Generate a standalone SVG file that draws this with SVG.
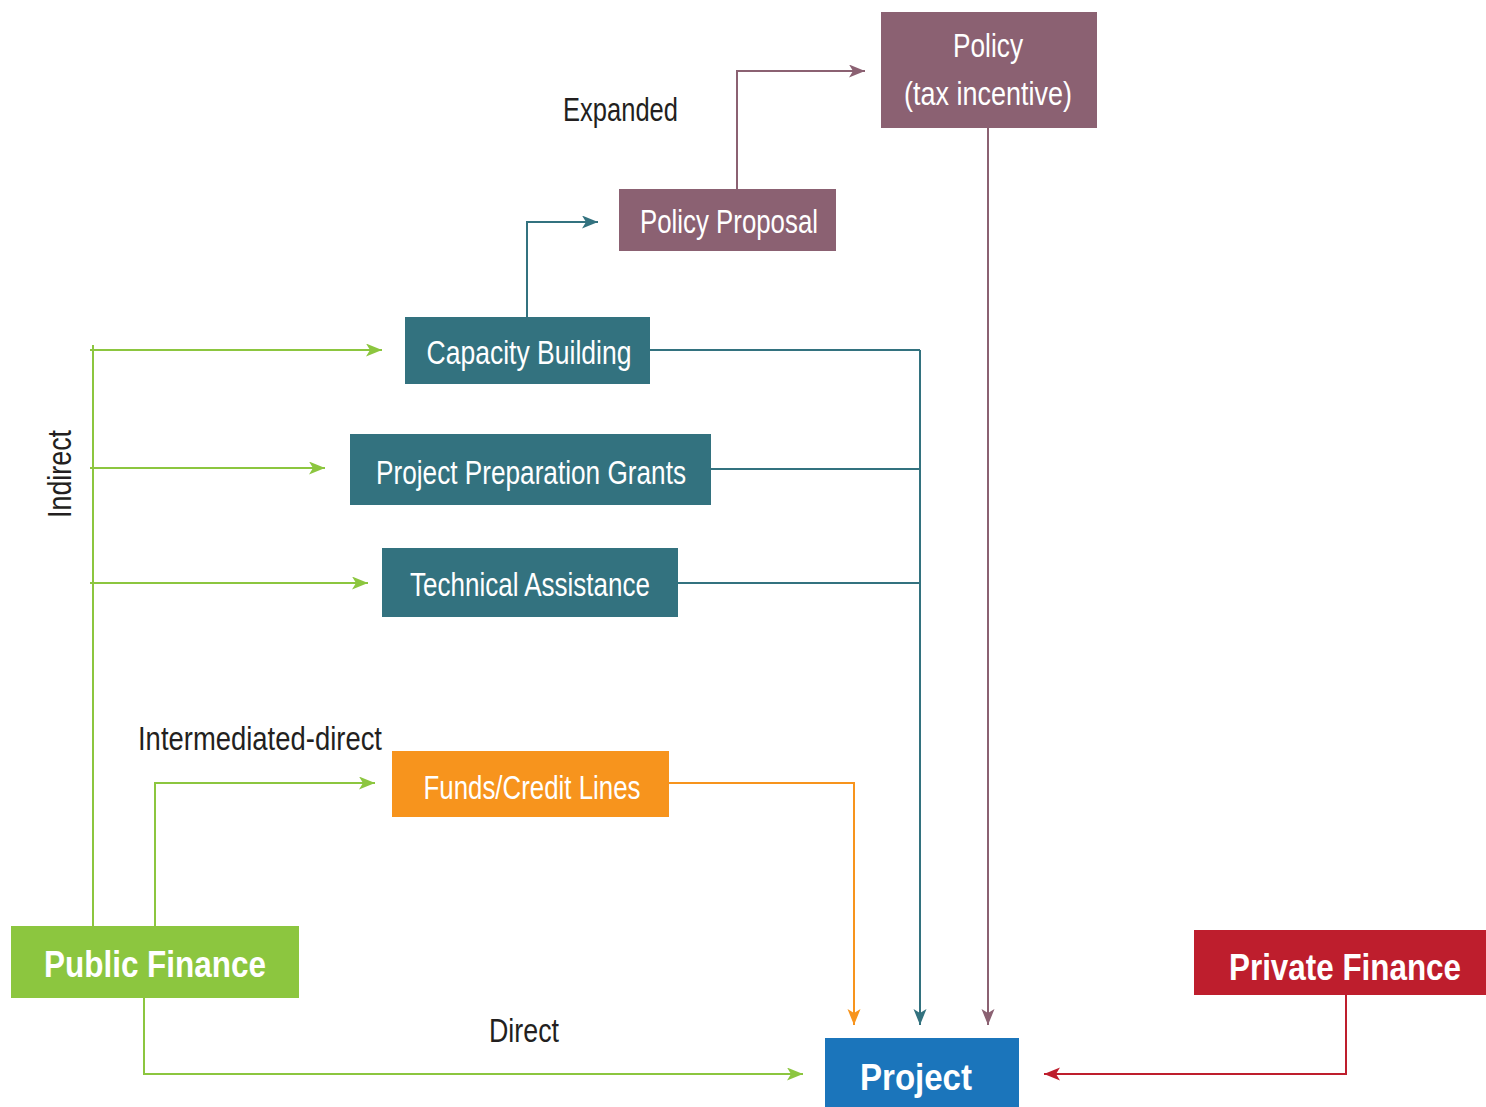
<svg xmlns="http://www.w3.org/2000/svg" width="1486" height="1107" viewBox="0 0 1486 1107">
<style>
.lbl{font-family:"Liberation Sans",Arial,sans-serif;font-size:33px;fill:#231f20}
.nt{font-family:"Liberation Sans",Arial,sans-serif;font-size:33px;fill:#ffffff;text-anchor:middle}
.bt{font-family:"Liberation Sans",Arial,sans-serif;font-size:37px;font-weight:bold;fill:#ffffff;text-anchor:middle}
.c{fill:none;stroke-width:2}
.g{stroke:#8cc63f}.t{stroke:#33727f}.p{stroke:#8b6172}.o{stroke:#f7941d}.r{stroke:#be1e2d}
</style>
<defs>
<marker id="ag" markerUnits="userSpaceOnUse" markerWidth="18" markerHeight="14" refX="16" refY="6.5" orient="auto"><path d="M0,0 L16,6.5 L0,13 L4,6.5 z" fill="#8cc63f"/></marker>
<marker id="at" markerUnits="userSpaceOnUse" markerWidth="18" markerHeight="14" refX="16" refY="6.5" orient="auto"><path d="M0,0 L16,6.5 L0,13 L4,6.5 z" fill="#33727f"/></marker>
<marker id="ap" markerUnits="userSpaceOnUse" markerWidth="18" markerHeight="14" refX="16" refY="6.5" orient="auto"><path d="M0,0 L16,6.5 L0,13 L4,6.5 z" fill="#8b6172"/></marker>
<marker id="ao" markerUnits="userSpaceOnUse" markerWidth="18" markerHeight="14" refX="16" refY="6.5" orient="auto"><path d="M0,0 L16,6.5 L0,13 L4,6.5 z" fill="#f7941d"/></marker>
<marker id="ar" markerUnits="userSpaceOnUse" markerWidth="18" markerHeight="14" refX="16" refY="6.5" orient="auto"><path d="M0,0 L16,6.5 L0,13 L4,6.5 z" fill="#be1e2d"/></marker>
</defs>
<g id="connectors">
<path class="c p" d="M737,189 V71 H865" marker-end="url(#ap)"/>
<path class="c p" d="M988,128 V1025" marker-end="url(#ap)"/>
<path class="c t" d="M527,317 V222 H598" marker-end="url(#at)"/>
<path class="c t" d="M650,350 H920"/>
<path class="c t" d="M711,469 H920"/>
<path class="c t" d="M678,583 H921"/>
<path class="c t" d="M920,350 V1025" marker-end="url(#at)"/>
<path class="c g" d="M93,345 V926"/>
<path class="c g" d="M90,350 H382" marker-end="url(#ag)"/>
<path class="c g" d="M90,468 H325" marker-end="url(#ag)"/>
<path class="c g" d="M90,583 H368" marker-end="url(#ag)"/>
<path class="c g" d="M155,926 V783 H375" marker-end="url(#ag)"/>
<path class="c o" d="M669,783 H854 V1025" marker-end="url(#ao)"/>
<path class="c g" d="M144,998 V1074 H803" marker-end="url(#ag)"/>
<path class="c r" d="M1346,995 V1074 H1044" marker-end="url(#ar)"/>
</g>
<g id="labels">
<text class="lbl" x="563" y="121" textLength="115" lengthAdjust="spacingAndGlyphs">Expanded</text>
<text class="lbl" transform="translate(71,518) rotate(-90)" textLength="88" lengthAdjust="spacingAndGlyphs">Indirect</text>
<text class="lbl" x="138" y="750" textLength="244" lengthAdjust="spacingAndGlyphs">Intermediated-direct</text>
<text class="lbl" x="489" y="1042" textLength="70" lengthAdjust="spacingAndGlyphs">Direct</text>
</g>
<g id="policy">
<rect x="881" y="12" width="216" height="116" fill="#8b6172"/>
<text class="nt" x="988" y="57" textLength="70" lengthAdjust="spacingAndGlyphs">Policy</text>
<text class="nt" x="988" y="105" textLength="168" lengthAdjust="spacingAndGlyphs">(tax incentive)</text>
</g>
<g id="policy-proposal">
<rect x="619" y="189" width="217" height="62" fill="#8b6172"/>
<text class="nt" x="729" y="233" textLength="178" lengthAdjust="spacingAndGlyphs">Policy Proposal</text>
</g>
<g id="capacity-building">
<rect x="405" y="317" width="245" height="67" fill="#33727f"/>
<text class="nt" x="529" y="364" textLength="205" lengthAdjust="spacingAndGlyphs">Capacity Building</text>
</g>
<g id="project-preparation-grants">
<rect x="350" y="434" width="361" height="71" fill="#33727f"/>
<text class="nt" x="531" y="484" textLength="310" lengthAdjust="spacingAndGlyphs">Project Preparation Grants</text>
</g>
<g id="technical-assistance">
<rect x="382" y="548" width="296" height="69" fill="#33727f"/>
<text class="nt" x="530" y="596" textLength="240" lengthAdjust="spacingAndGlyphs">Technical Assistance</text>
</g>
<g id="funds-credit-lines">
<rect x="392" y="751" width="277" height="66" fill="#f7941d"/>
<text class="nt" x="532" y="799" textLength="217" lengthAdjust="spacingAndGlyphs">Funds/Credit Lines</text>
</g>
<g id="public-finance">
<rect x="11" y="926" width="288" height="72" fill="#8cc63f"/>
<text class="bt" x="155" y="977" textLength="222" lengthAdjust="spacingAndGlyphs">Public Finance</text>
</g>
<g id="project">
<rect x="825" y="1038" width="194" height="69" fill="#1b75bb"/>
<text class="bt" x="916" y="1090" textLength="112" lengthAdjust="spacingAndGlyphs">Project</text>
</g>
<g id="private-finance">
<rect x="1194" y="930" width="292" height="65" fill="#be1e2d"/>
<text class="bt" x="1345" y="980" textLength="232" lengthAdjust="spacingAndGlyphs">Private Finance</text>
</g>
</svg>
